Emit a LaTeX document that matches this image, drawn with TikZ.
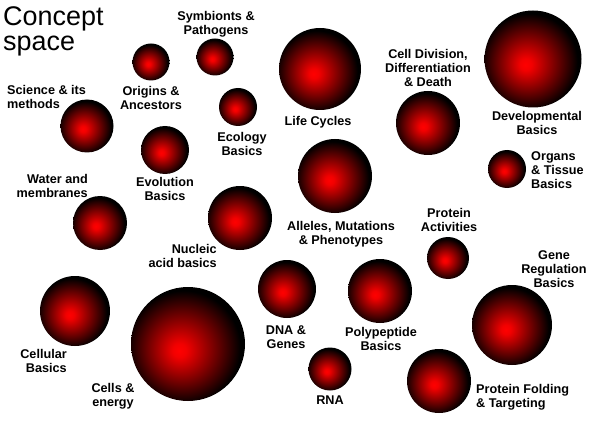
\documentclass[tikz,border=0pt]{standalone}
\usepackage{fontspec}
\setmainfont{Liberation Sans}
\usepackage{xcolor}
\usepackage{tikz}
\usetikzlibrary{positioning,shapes.geometric}
\pgfdeclareradialshading{sphere}{\pgfpoint{-4bp}{-3bp}}{color(0bp)=(red); color(3bp)=(red!95!black); color(25bp)=(black); color(50bp)=(black)}
\newcommand{\pxu}{0.03cm}

\begin{document}
\begin{tikzpicture}[x=0.03cm,y=-0.03cm,
  ball/.style={circle,inner sep=0pt,shading=sphere,minimum size=2*#1*\pxu},
  lbl/.style={inner sep=0pt,align=center,font=\fontsize{10.8}{12}\selectfont\bfseries}]
  \path[use as bounding box,fill=white] (0,0) rectangle (600,427);
  \node[anchor=north west,inner sep=0pt,align=left,font=\fontsize{23}{21.3}\selectfont] (title) at (3,6.5) {Concept\\space};

  % the spheres
  \node[ball=18.5] (origins) at (151,62) {};
  \node[ball=18.5] (symb) at (215,57) {};
  \node[ball=26.5] (science) at (87,126) {};
  \node[ball=19] (ecology) at (238,107) {};
  \node[ball=24] (evolution) at (165,150) {};
  \node[ball=41] (life) at (320,69) {};
  \node[ball=32] (celldiv) at (428,123) {};
  \node[ball=48.5] (devel) at (533,59) {};
  \node[ball=19] (organs) at (507,169) {};
  \node[ball=37] (alleles) at (335,176) {};
  \node[ball=27] (water) at (100,223) {};
  \node[ball=32] (nucleic) at (240,218) {};
  \node[ball=35] (cellular) at (75,311) {};
  \node[ball=57] (energy) at (188,344) {};
  \node[ball=29] (dna) at (287,289) {};
  \node[ball=32] (poly) at (380,291) {};
  \node[ball=21] (activ) at (448,258) {};
  \node[ball=40] (genereg) at (512,325) {};
  \node[ball=21.5] (rna) at (330,369) {};
  \node[ball=32] (folding) at (439,381) {};

  % labels
  \node[lbl] (symb-l) at (216,24) {Symbionts \&\\Pathogens};
  \node[lbl] (origins-l) at (151,98) {Origins \&\\Ancestors};
  \node[lbl,anchor=west,align=left] (science-l) at (7,97) {Science \& its\\methods};
  \node[lbl] (ecology-l) at (242,144) {Ecology\\Basics};
  \node[lbl] (evolution-l) at (165,189) {Evolution\\Basics};
  \node[lbl,anchor=east,align=right] (water-l) at (88,186) {Water and\\membranes};
  \node[lbl] (life-l) at (318,122) {Life Cycles};
  \node[lbl] (celldiv-l) at (428,68) {Cell Division,\\Differentiation\\\& Death};
  \node[lbl] (devel-l) at (537,123) {Developmental\\Basics};
  \node[lbl,anchor=west,align=left] (organs-l) at (531,170) {Organs\\\& Tissue\\Basics};
  \node[lbl] (alleles-l) at (341,234) {Alleles, Mutations\\\& Phenotypes};
  \node[lbl] (activ-l) at (449,220) {Protein\\Activities};
  \node[lbl] (genereg-l) at (554,269) {Gene\\Regulation\\Basics};
  \node[lbl] (poly-l) at (381,339) {Polypeptide\\Basics};
  \node[lbl] (dna-l) at (286,337) {DNA \&\\Genes};
  \node[lbl] (rna-l) at (330,400) {RNA};
  \node[lbl,anchor=west,align=left] (folding-l) at (476,397) {Protein Folding\\\& Targeting};
  \node[lbl,anchor=east,align=right] (nucleic-l) at (217,256) {Nucleic\\acid basics};
  \node[lbl,anchor=east,align=right] (cellular-l) at (67,361) {Cellular\\Basics};
  \node[lbl] (energy-l) at (113,396) {Cells \&\\energy};
\end{tikzpicture}
\end{document}
